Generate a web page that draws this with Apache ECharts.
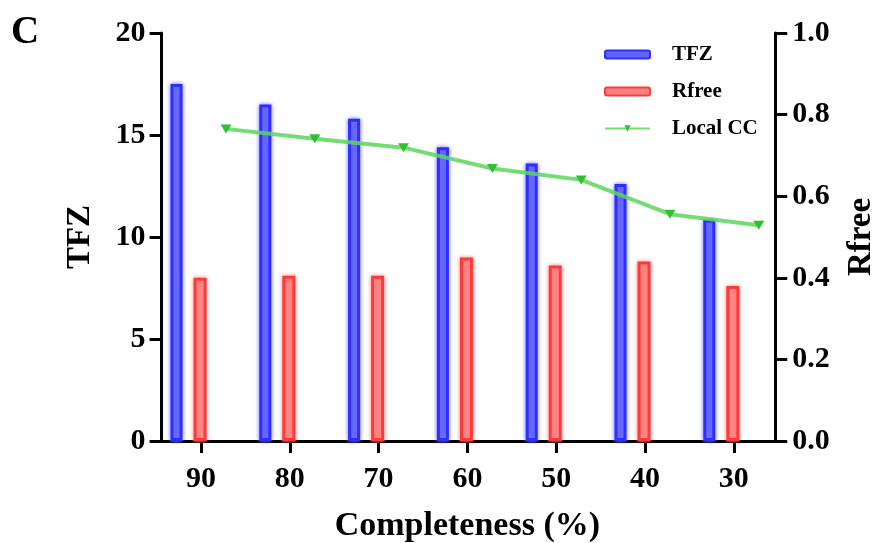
<!DOCTYPE html>
<html>
<head>
<meta charset="utf-8">
<script src="https://cdn.jsdelivr.net/npm/echarts@6/dist/echarts.min.js"></script>
<style>html,body{margin:0;padding:0;background:#fff;}#c{width:887px;height:543px;}</style>
</head>
<body>
<div id="c"></div>
<script>
var categories = ['90', '80', '70', '60', '50', '40', '30'];
var tfz = [17.5, 16.5, 15.8, 14.4, 13.6, 12.6, 10.85];
var rfree = [0.40, 0.405, 0.405, 0.45, 0.43, 0.44, 0.38];
var localCC = [0.765, 0.741, 0.719, 0.668, 0.640, 0.556, 0.529];
var placeholder = [null, null, null, null, null, null, null];
var leftTicks = [0, 5, 10, 15, 20];
var rightTicks = [0, 0.2, 0.4, 0.6, 0.8, 1.0];

var FONT = 'Liberation Serif';
var chart = echarts.init(document.getElementById('c'), null, {renderer: 'canvas'});
var gridLeft = 156.6, gridW = 621.6, gridTop = 33, gridH = 408;
var axisLine = {show: true, lineStyle: {color: '#000', width: 3}};
var axisTick = {show: true, length: 12, lineStyle: {color: '#000', width: 3}};
var labelFont = {fontFamily: FONT, fontWeight: 'bold', fontSize: 30, color: '#000'};
var nameFont = {fontFamily: FONT, fontWeight: 'bold', fontSize: 33, color: '#000'};

chart.setOption({
  animation: false,
  backgroundColor: '#fff',
  title: {text: 'C', left: 6, top: 8, textStyle: {fontFamily: FONT, fontWeight: 'bold', fontSize: 39, color: '#000'}},
  legend: {
    data: ['TFZ', 'Rfree', 'Local CC'],
    orient: 'vertical', left: 599, top: 39,
    itemWidth: 45, itemHeight: 8, itemGap: 16,
    textStyle: {fontFamily: FONT, fontWeight: 'bold', fontSize: 21, color: '#000', padding: [0, 0, 0, 17]}
  },
  grid: [
    {left: gridLeft, top: gridTop, width: gridW, height: gridH, outerBoundsMode: 'none', containLabel: false},
    {left: gridLeft + 25, top: gridTop, width: gridW, height: gridH, outerBoundsMode: 'none', containLabel: false}
  ],
  xAxis: [
    {type: 'category', gridIndex: 0, data: categories, position: 'bottom',
     axisLine: axisLine, axisTick: Object.assign({alignWithLabel: true}, axisTick),
     axisLabel: Object.assign({margin: 23}, labelFont),
     name: 'Completeness (%)', nameLocation: 'middle', nameGap: 68, nameTextStyle: {fontFamily: FONT, fontWeight: 'bold', fontSize: 34, color: '#000'}},
    {type: 'category', gridIndex: 0, data: categories, position: 'top',
     axisLine: axisLine, axisTick: {show: false}, axisLabel: {show: false}},
    {type: 'category', gridIndex: 1, data: categories, show: false}
  ],
  yAxis: [
    {type: 'value', gridIndex: 0, min: 0, max: 20, interval: 5, position: 'left', offset: -5,
     axisLine: axisLine, axisTick: axisTick, splitLine: {show: false},
     axisLabel: Object.assign({margin: 16, formatter: function (v) { return leftTicks.indexOf(v) >= 0 ? String(v) : ''; }}, labelFont),
     name: 'TFZ', nameLocation: 'middle', nameGap: 65, nameRotate: 90, nameTextStyle: nameFont},
    {type: 'value', gridIndex: 0, min: 0, max: 1, interval: 0.2, position: 'right', offset: -3,
     axisLine: axisLine, axisTick: axisTick, splitLine: {show: false},
     axisLabel: Object.assign({margin: 17, formatter: function (v) { return v.toFixed(1); }}, labelFont),
     name: 'Rfree', nameLocation: 'middle', nameGap: 70, nameRotate: 90, nameTextStyle: nameFont},
    {type: 'value', gridIndex: 1, min: 0, max: 1, show: false}
  ],
  series: [
    {name: 'TFZ', type: 'bar', xAxisIndex: 0, yAxisIndex: 0, data: tfz,
     barWidth: 12, barGap: '108%',
     itemStyle: {color: '#6262ff', borderColor: '#2e2eff', borderWidth: 3, shadowBlur: 4, shadowColor: 'rgba(120,120,255,1)'}},
    {name: 'Rfree', type: 'bar', xAxisIndex: 0, yAxisIndex: 1, data: rfree,
     barWidth: 13, barGap: '92%',
     itemStyle: {color: '#ff8282', borderColor: '#ff3a3a', borderWidth: 3, shadowBlur: 4, shadowColor: 'rgba(255,140,140,1)'}},
    {name: 'pad', type: 'bar', xAxisIndex: 0, yAxisIndex: 1, data: placeholder,
     barWidth: 13, barGap: '92%', silent: true},
    {name: 'Local CC', type: 'line', xAxisIndex: 2, yAxisIndex: 2, data: localCC, z: 5,
     symbol: 'path://M0,0 L10,0 L5,8 Z', symbolSize: [11, 9],
     lineStyle: {color: 'rgba(90,215,90,0.85)', width: 4},
     itemStyle: {color: '#30c030'}}
  ]
});
</script>
</body>
</html>
